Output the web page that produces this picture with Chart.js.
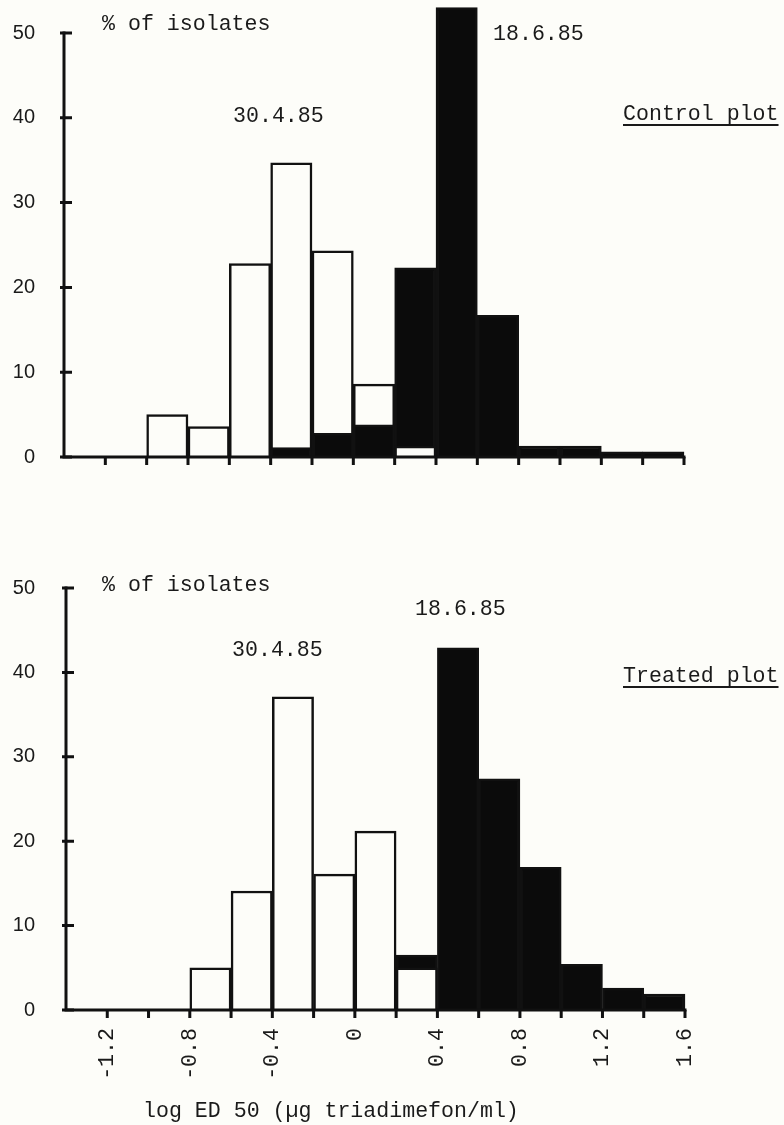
<!DOCTYPE html>
<html><head><meta charset="utf-8">
<script src="https://cdn.jsdelivr.net/npm/chart.js@4.4.1/dist/chart.umd.min.js"></script>
<style>
html,body{margin:0;padding:0;background:#fdfdf9;}
body{width:784px;height:1125px;position:relative;overflow:hidden;}
canvas{position:absolute;left:0;}
.t{position:absolute;font-family:"Liberation Mono",monospace;font-size:21.6px;color:#1a1a1a;white-space:nowrap;line-height:1;}
.u{text-decoration:underline;text-decoration-thickness:1.5px;text-underline-offset:4px;}
</style></head><body>
<canvas id="c1" width="784" height="548" style="top:-8px"></canvas>
<canvas id="c2" width="784" height="585" style="top:540px"></canvas>
<div class="t" style="left:102px;top:14px">% of isolates</div>
<div class="t" style="left:233px;top:106px">30.4.85</div>
<div class="t" style="left:493px;top:24px">18.6.85</div>
<div class="t u" style="left:623px;top:104px">Control plot</div>
<div class="t" style="left:102px;top:575px">% of isolates</div>
<div class="t" style="left:232px;top:640px">30.4.85</div>
<div class="t" style="left:415px;top:599px">18.6.85</div>
<div class="t u" style="left:623px;top:666px">Treated plot</div>
<div class="t" style="left:143px;top:1101px">log ED 50 (µg triadimefon/ml)</div>
<script>
// bin lower edges of log ED 50 (bin width 0.2)
const binStarts = [-1.4, -1.2, -1.0, -0.8, -0.6, -0.4, -0.2, 0.0, 0.2, 0.4, 0.6, 0.8, 1.0, 1.2, 1.4];
const binWidth = 0.2;
// % of isolates, Control plot
const control_30_4_85 = [0, 0, 5.0, 3.6, 22.8, 34.7, 24.3, 8.6, 1.3, 0, 0, 0, 0, 0, 0];
const control_18_6_85 = [0, 0, 0, 0, 0, 1.1, 2.8, 3.8, 22.3, 53.0, 16.7, 1.3, 1.3, 0.6, 0.6];
// % of isolates, Treated plot
const treated_30_4_85 = [0, 0, 0, 5.0, 14.1, 37.1, 16.1, 21.2, 5.0, 0, 0, 0, 0, 0, 0];
const treated_18_6_85 = [0, 0, 0, 0, 0, 0, 0, 0, 6.5, 42.9, 27.4, 16.9, 5.4, 2.6, 1.9];
const yTicks = [0, 10, 20, 30, 40, 50];
const xLabelled = [-1.2, -0.8, -0.4, 0, 0.4, 0.8, 1.2, 1.6];

const WHITE = '#fdfdf9', BLACK = '#0b0b0b', INK = '#111111';

function layers(white, black) {
  const back = [], front = [], backCol = [], frontCol = [];
  binStarts.forEach((b, i) => {
    const c = +(b + binWidth / 2).toFixed(2);
    const w = white[i], k = black[i];
    const big = w >= k ? w : k, small = w >= k ? k : w;
    back.push({x: c, y: big > 0 ? big : null});
    backCol.push(w >= k ? WHITE : BLACK);
    front.push({x: c, y: small > 0 ? small : null});
    frontCol.push(w >= k ? BLACK : WHITE);
  });
  const common = {borderColor: INK, borderWidth: 2.5, barPercentage: 1, categoryPercentage: 1, grouped: false, clip: false};
  return [
    Object.assign({label: 'front', data: front, backgroundColor: frontCol, order: 0}, common),
    Object.assign({label: 'back', data: back, backgroundColor: backCol, order: 1}, common)
  ];
}

const axesPlugin = {
  id: 'axesDraw',
  afterDatasetsDraw(chart) {
    const {ctx, scales: {x, y}} = chart;
    const x0 = x.getPixelForValue(x.min), x1 = x.getPixelForValue(x.max);
    const y0 = y.getPixelForValue(0), yTop = y.getPixelForValue(yTicks[yTicks.length - 1]);
    ctx.save();
    ctx.strokeStyle = INK; ctx.lineWidth = 3; ctx.lineCap = 'square';
    ctx.beginPath();
    ctx.moveTo(x0, y0); ctx.lineTo(x1, y0);
    ctx.moveTo(x0, y0); ctx.lineTo(x0, yTop);
    ctx.stroke();
    ctx.lineCap = 'butt';
    ctx.beginPath();
    yTicks.forEach(v => { const py = y.getPixelForValue(v); ctx.moveTo(x0 - 4, py); ctx.lineTo(x0 + 8, py); });
    x.ticks.forEach(t => {
      if (Math.abs(t.value - x.min) < 1e-6) return;
      const px = x.getPixelForValue(t.value);
      ctx.moveTo(px, y0); ctx.lineTo(px, y0 + 8);
    });
    ctx.stroke();
    ctx.restore();
  }
};

function makeChart(id, white, black, opts) {
  return new Chart(document.getElementById(id), {
    type: 'bar',
    data: {datasets: layers(white, black)},
    plugins: [axesPlugin],
    options: {
      responsive: false, animation: false,
      layout: {padding: opts.padding},
      plugins: {legend: {display: false}, tooltip: {enabled: false}},
      scales: {
        x: {
          type: 'linear', min: binStarts[0], max: binStarts[binStarts.length - 1] + binWidth, offset: false,
          grid: {display: false, drawTicks: false}, border: {display: false},
          ticks: {
            display: opts.xLabels, stepSize: binWidth, autoSkip: false, minRotation: 90, maxRotation: 90,
            padding: 18, color: '#1a1a1a', font: {family: 'Liberation Mono', size: 21.6},
            callback: v => xLabelled.some(l => Math.abs(l - v) < 1e-6) ? String(+v.toFixed(1)) : ''
          },
          afterFit: s => { s.height = opts.xHeight; }
        },
        y: {
          min: 0, max: 50,
          grid: {display: false, drawTicks: false}, border: {display: false},
          ticks: {stepSize: 10, padding: opts.yPad, color: '#1a1a1a', font: {family: 'Liberation Sans', size: 20}},
          afterFit: s => { s.width = opts.yWidth; }
        }
      }
    }
  });
}

makeChart('c1', control_30_4_85, control_18_6_85, {padding: {left: 0, right: 100, top: 24, bottom: 63}, xHeight: 20, xLabels: false, yWidth: 64, yPad: 29});
makeChart('c2', treated_30_4_85, treated_18_6_85, {padding: {left: 0, right: 99, top: 48, bottom: 0}, xHeight: 115, xLabels: true, yWidth: 66, yPad: 31});
</script>
</body></html>
